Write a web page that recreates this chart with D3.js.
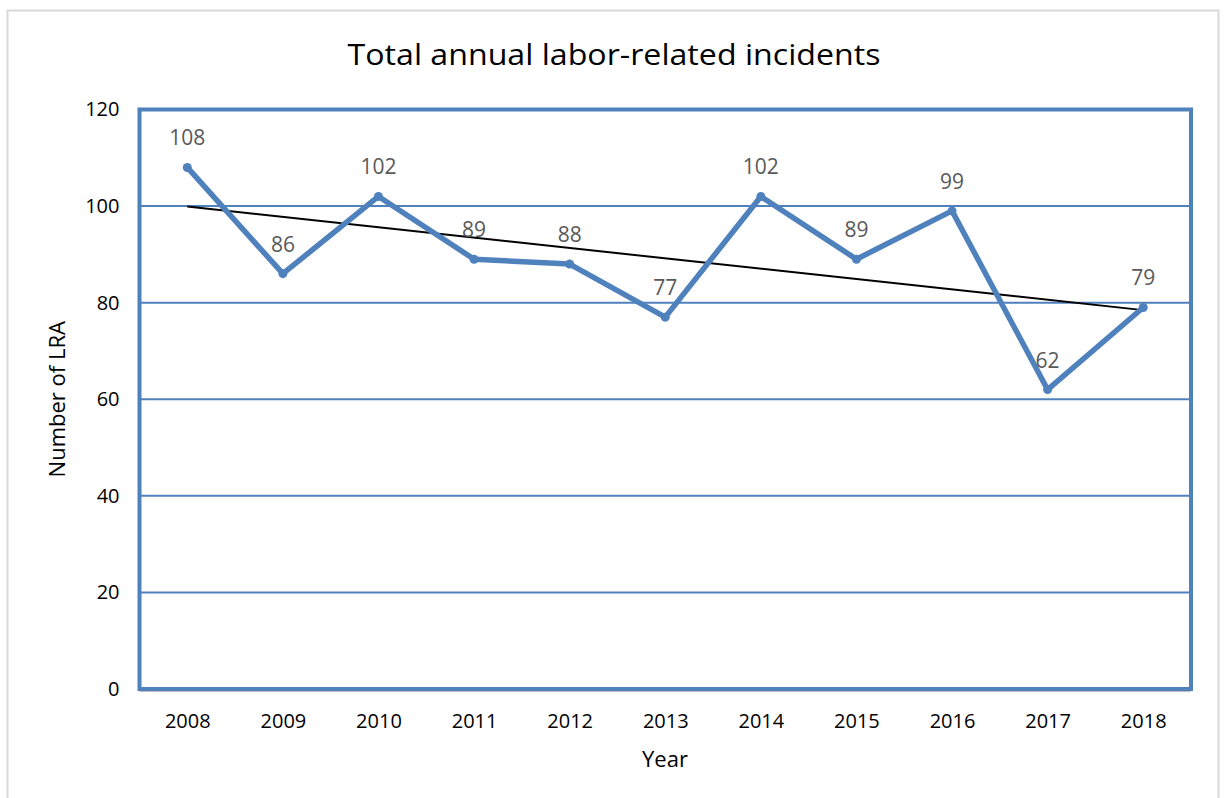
<!DOCTYPE html>
<html>
<head>
<meta charset="utf-8">
<script src="https://cdn.jsdelivr.net/npm/d3@7"></script>
<style>
  html, body { margin: 0; padding: 0; background: #fff; }
  svg { display: block; font-family: "Open Sans", Lato, sans-serif; }
</style>
</head>
<body>
<svg id="chart" width="1224" height="798"></svg>
<script>
const years = ["2008","2009","2010","2011","2012","2013","2014","2015","2016","2017","2018"];
const incidents = [108, 86, 102, 89, 88, 77, 102, 89, 99, 62, 79];
const yTicks = [0, 20, 40, 60, 80, 100, 120];
const titleText = "Total annual labor-related incidents";
const xTitle = "Year";
const yTitle = "Number of LRA";

const svg = d3.select("#chart");
const FONT = "'Open Sans', Lato, sans-serif";
const plot = { left: 139.5, top: 109.5, right: 1191, bottom: 689 };
const blue = "#4f81bd";

// outer frame
svg.append("rect").attr("x", 7.5).attr("y", 10.5).attr("width", 1211).attr("height", 800)
  .attr("fill", "#fff").attr("stroke", "#d9d9d9").attr("stroke-width", 2);

const x = d3.scalePoint().domain(years).range([plot.left, plot.right]).padding(0.5);
const y = d3.scaleLinear().domain([0, 120]).range([plot.bottom, plot.top]);

// gridlines
svg.append("g").selectAll("line").data(yTicks.filter(t => t > 0 && t < 120)).join("line")
  .attr("x1", plot.left).attr("x2", plot.right)
  .attr("y1", d => y(d)).attr("y2", d => y(d))
  .attr("stroke", blue).attr("stroke-width", 2);

// x axis line (gray)
svg.append("line").attr("x1", plot.left).attr("x2", plot.right)
  .attr("y1", plot.bottom + 2).attr("y2", plot.bottom + 2)
  .attr("stroke", "#bfbfbf").attr("stroke-width", 2);

// plot border
svg.append("rect").attr("x", plot.left).attr("y", plot.top)
  .attr("width", plot.right - plot.left).attr("height", plot.bottom - plot.top)
  .attr("fill", "none").attr("stroke", blue).attr("stroke-width", 4);

// y axis
const yAxis = svg.append("g").attr("transform", `translate(${plot.left - 20},0)`)
  .call(d3.axisLeft(y).tickValues(yTicks).tickSize(0).tickPadding(0));
yAxis.select(".domain").remove();
yAxis.selectAll("text").attr("font-size", 20).attr("fill", "#000").attr("font-family", FONT);

// x axis
const xAxis = svg.append("g").attr("transform", `translate(0,${plot.bottom + 39})`)
  .call(d3.axisBottom(x).tickSize(0).tickPadding(0));
xAxis.select(".domain").remove();
xAxis.selectAll("text").attr("font-size", 20).attr("fill", "#000")
  .attr("dy", 0).attr("y", 0).attr("font-family", FONT);

// trend line (least squares)
const n = incidents.length;
const xs = d3.range(n);
const mx = d3.mean(xs), my = d3.mean(incidents);
const slope = d3.sum(xs, (xi, i) => (xi - mx) * (incidents[i] - my)) / d3.sum(xs, xi => (xi - mx) ** 2);
const intercept = my - slope * mx;
svg.append("line")
  .attr("x1", x(years[0])).attr("y1", y(intercept))
  .attr("x2", x(years[n - 1])).attr("y2", y(intercept + slope * (n - 1)))
  .attr("stroke", "#000").attr("stroke-width", 2);

// data line
const data = years.map((yr, i) => ({ yr, v: incidents[i] }));
svg.append("path").datum(data)
  .attr("fill", "none").attr("stroke", blue).attr("stroke-width", 5.5)
  .attr("stroke-linejoin", "round").attr("stroke-linecap", "round")
  .attr("d", d3.line().x(d => x(d.yr)).y(d => y(d.v)));
svg.append("g").selectAll("circle").data(data).join("circle")
  .attr("cx", d => x(d.yr)).attr("cy", d => y(d.v)).attr("r", 4.5).attr("fill", blue);

// data labels
svg.append("g").selectAll("text").data(data).join("text")
  .attr("x", d => x(d.yr)).attr("y", d => y(d.v) - 22)
  .attr("text-anchor", "middle").attr("font-size", 21).attr("fill", "#595959")
  .attr("font-family", FONT)
  .text(d => d.v);

// titles
svg.append("text").attr("x", 614).attr("y", 65).attr("text-anchor", "middle")
  .attr("font-size", 29).attr("fill", "#000").attr("font-family", FONT)
  .attr("textLength", 533).attr("lengthAdjust", "spacingAndGlyphs").text(titleText);
svg.append("text").attr("x", 665).attr("y", 767).attr("text-anchor", "middle")
  .attr("font-size", 22).attr("fill", "#000").attr("font-family", FONT).text(xTitle);
svg.append("text").attr("transform", `translate(65,${(plot.top + plot.bottom) / 2}) rotate(-90)`)
  .attr("text-anchor", "middle").attr("font-size", 22).attr("fill", "#000")
  .attr("font-family", FONT).text(yTitle);
</script>
</body>
</html>
